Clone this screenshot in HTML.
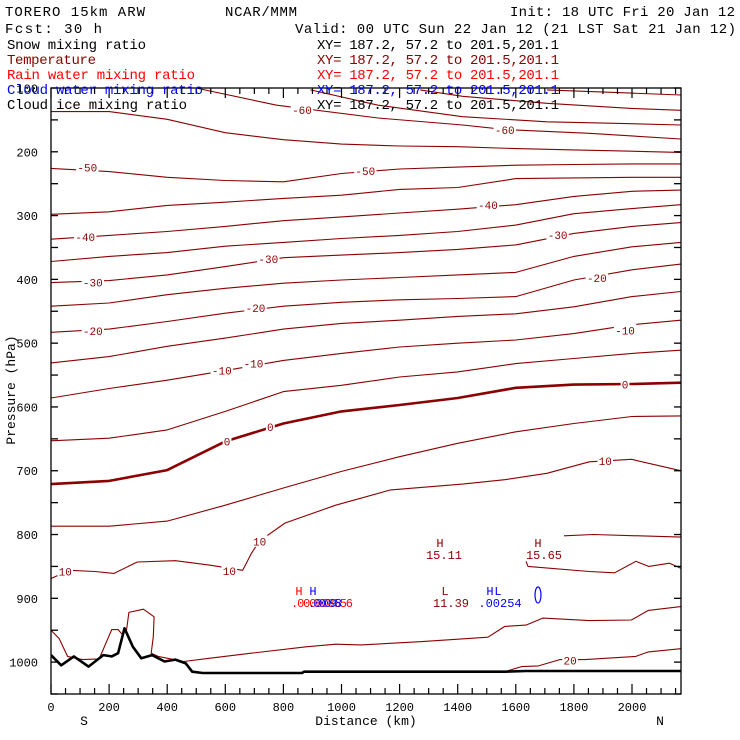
<!DOCTYPE html>
<html><head><meta charset="utf-8"><style>
html,body{margin:0;padding:0;background:#fff;}
svg{display:block;font-family:"Liberation Mono",monospace;}
</style></head><body>
<svg id="chart" width="740" height="740" viewBox="0 0 740 740" xmlns="http://www.w3.org/2000/svg">
<rect width="740" height="740" fill="#fff"/>
<defs><clipPath id="plotclip"><rect x="51" y="88" width="630" height="606"/></clipPath></defs>
<g id="contours" clip-path="url(#plotclip)"></g>
<g id="terrainG" clip-path="url(#plotclip)"></g>
<g id="labels"></g>
<g id="axes"></g>
<g font-size="14" fill="#000">
<text x="5" y="16" textLength="140">TORERO  15km ARW</text>
<text x="225" y="16" textLength="72">NCAR/MMM</text>
<text x="510" y="16" textLength="225">Init: 18 UTC Fri 20 Jan 12</text>
<text x="5" y="33" textLength="97">Fcst:   30 h</text>
<text x="295" y="33" textLength="441">Valid: 00 UTC Sun 22 Jan 12 (21 LST Sat 21 Jan 12)</text>
</g>
<g font-size="14">
<text x="7" y="49" fill="#000" textLength="139">Snow mixing ratio</text>
<text x="317" y="49" fill="#000" textLength="242">XY= 187.2, 57.2 to 201.5,201.1</text>
<text x="7" y="64" fill="#8b0000" textLength="89">Temperature</text>
<text x="317" y="64" fill="#8b0000" textLength="242">XY= 187.2, 57.2 to 201.5,201.1</text>
<text x="7" y="79" fill="#ff0000" textLength="188">Rain water mixing ratio</text>
<text x="317" y="79" fill="#ff0000" textLength="242">XY= 187.2, 57.2 to 201.5,201.1</text>
<text x="7" y="94" fill="#0000ff" textLength="196">Cloud water mixing ratio</text>
<text x="317" y="94" fill="#0000ff" textLength="242">XY= 187.2, 57.2 to 201.5,201.1</text>
<text x="7" y="109" fill="#000" textLength="180">Cloud ice mixing ratio</text>
<text x="317" y="109" fill="#000" textLength="242">XY= 187.2, 57.2 to 201.5,201.1</text>
</g>
<g font-size="12" text-anchor="middle">
<text x="299" y="595" fill="#ff0000">H</text>
<text x="313" y="595" fill="#0000ff">H</text>
<text x="322" y="607" fill="#ff0000" textLength="62">.000008556</text>
<text x="325" y="607" fill="#0000ff" textLength="34">.00098</text>
<text x="440" y="547" fill="#8b0000">H</text>
<text x="444" y="559" fill="#8b0000">15.11</text>
<text x="538" y="547" fill="#8b0000">H</text>
<text x="544" y="559" fill="#8b0000">15.65</text>
<text x="445" y="595" fill="#8b0000">L</text>
<text x="451" y="607" fill="#8b0000">11.39</text>
<text x="490" y="595" fill="#0000ff">H</text>
<text x="498" y="595" fill="#0000ff">L</text>
<text x="500" y="607" fill="#0000ff">.00254</text>
<ellipse cx="538" cy="595" rx="3" ry="8" fill="none" stroke="#0000ff" stroke-width="1.2"/>
</g>
<g font-size="13" fill="#000">
<text x="366" y="725" text-anchor="middle">Distance (km)</text>
<text x="84" y="725" text-anchor="middle">S</text>
<text x="660" y="725" text-anchor="middle">N</text>
<text transform="translate(15,390) rotate(-90)" text-anchor="middle">Pressure (hPa)</text>
</g>
</svg>
<script>
const distNodes=[0,200,400,600,800,1000,1200,1400,1600,1800,2000,2168];
const tempM55=[137,137,149,170,181,188,191,192,195,197,199,201];
const tempM50=[226,231,240,245,247,234,227,224,221,220,219,219];
const tempM45=[298,294,284,279,273,268,259,256,242,241,240,240];
const tempM40=[337,331,325,317,308,302,296,290,283,270,262,260];
const tempM35=[372,364,358,348,342,336,331,325,315,297,289,283];
const tempM30=[405,402,393,380,366,362,358,353,346,328,317,311];
const tempM25=[442,437,424,414,406,401,397,393,389,364,349,342];
const tempM20=[483,478,466,453,442,436,432,430,427,401,385,376];
const tempM15=[531,521,505,492,478,469,464,458,454,443,427,419];
const tempM10=[586,571,558,543,527,516,506,500,495,485,471,464];
const tempM5=[653,649,636,607,576,566,553,545,532,524,516,511];
const temp0=[721,716,699,654,626,607,597,586,570,565,564,562];
const temp5=[787,787,779,754,727,701,678,657,639,626,615,614];
const m60Dist=[400,529,777,1126,1417,1562,1853,2168];
const m60Pres=[90,103,127,147,158,165,171,180];
const m65Dist=[893,1126,1417,1707,1998,2168];
const m65Pres=[103,127,145,153,156,158];
const m70Dist=[1271,1417,1707,1998,2168];
const m70Pres=[103,113,124,132,135];
const m75Dist=[1707,1998,2168];
const m75Pres=[103,108,111];
const t10Dist=[0,64,151,217,297,428,545,660,689,718,806,980,1169,1417,1562,1707,1853,1998,2168];
const t10Pres=[869,856,858,861,843,841,848,856,830,810,782,754,730,721,714,704,686,682,700];
const t15aDist=[0,28,57,108,166,209,231,246];
const t15aPres=[950,963,991,996,995,949,949,957];
const t15bDist=[260,268,318,355,352,345,369,457,544,689,878,980,1067,1271,1504,1562,1635,1693,1853,1998,2056,2168];
const t15bPres=[950,922,917,929,960,986,991,999,994,986,976,972,973,968,961,944,942,931,935,934,919,913];
const t15cDist=[1635,1642,1853,1940,2013,2057,2129,2168];
const t15cPres=[842,850,858,860,842,850,845,853];
const t15dDist=[1766,1867,2168];
const t15dPres=[802,800,804];
const t20Dist=[1562,1620,1678,1751,1838,2013,2056,2168];
const t20Pres=[1015,1007,1006,996,996,991,984,979];
const terrainDist=[0,35,79,129,180,209,231,253,282,311,348,391,428,464,486,522,864,871,1562,1635,2168];
const terrainPres=[989,1005,991,1007,989,991,986,947,976,994,989,999,996,1002,1015,1017,1017,1015,1015,1014,1014];
const labelText=["-60","-60","-50","-50","-40","-40","-30","-30","-30","-20","-20","-20","-10","-10","-10","0","0","0","10","10","10","10","20"];
const labelDist=[864,1562,125,1082,1504,118,1744,748,144,1879,704,144,1976,697,588,1976,606,755,1908,718,614,49,1787];
const labelPres=[134,165,224,229,283,333,330,367,404,397,444,480,479,531,542,564,653,631,684,810,856,857,997];
const yTicks=[100,200,300,400,500,600,700,800,900,1000];
const xTicks=[0,200,400,600,800,1000,1200,1400,1600,1800,2000];

const NS='http://www.w3.org/2000/svg';
function xs(d){return 51+d*0.2905;}
function ys(p){return 88+(p-100)*0.6379;}
function mk(tag,attrs,parent){const e=document.createElementNS(NS,tag);for(const k in attrs)e.setAttribute(k,attrs[k]);parent.appendChild(e);return e;}
function pathFrom(dist,pres){let s='';for(let i=0;i<dist.length;i++){if(pres[i]==null)continue;s+=(s?'L':'M')+xs(dist[i]).toFixed(1)+','+ys(pres[i]).toFixed(1);}return s;}
const cg=document.getElementById('contours');
function line(dist,pres,name,w,color){
  const p=mk('path',{d:pathFrom(dist,pres),fill:'none',stroke:color||'#8b0000','stroke-width':w||1.1,'stroke-linejoin':'round'},cg);
  
  
}
line(distNodes,tempM55,'isotherm-minus55');
line(distNodes,tempM50,'isotherm-minus50');
line(distNodes,tempM45,'isotherm-minus45');
line(distNodes,tempM40,'isotherm-minus40');
line(distNodes,tempM35,'isotherm-minus35');
line(distNodes,tempM30,'isotherm-minus30');
line(distNodes,tempM25,'isotherm-minus25');
line(distNodes,tempM20,'isotherm-minus20');
line(distNodes,tempM15,'isotherm-minus15');
line(distNodes,tempM10,'isotherm-minus10');
line(distNodes,tempM5,'isotherm-minus5');
line(distNodes,temp0,'isotherm-0',2.6);
line(distNodes,temp5,'isotherm-5');
line(m60Dist,m60Pres,'isotherm-minus60');
line(m65Dist,m65Pres,'isotherm-minus65');
line(m70Dist,m70Pres,'isotherm-minus70');
line(m75Dist,m75Pres,'isotherm-minus75');
line(t10Dist,t10Pres,'isotherm-10');
line(t15aDist,t15aPres,'isotherm-15-west');
line(t15bDist,t15bPres,'isotherm-15');
line(t15cDist,t15cPres,'isotherm-15-north');
line(t15dDist,t15dPres,'isotherm-10-north');
line(t20Dist,t20Pres,'isotherm-20');
const tg=document.getElementById('terrainG');
const tp=mk('path',{d:pathFrom(terrainDist,terrainPres),fill:'none',stroke:'#000','stroke-width':2.6,'stroke-linejoin':'round'},tg);



const lg=document.getElementById('labels');
for(let i=0;i<labelText.length;i++){
  const x=xs(labelDist[i]),y=ys(labelPres[i]);
  const w=labelText[i].length*6.8+2;
  const r=mk('rect',{x:x-w/2,y:y-6,width:w,height:12,fill:'#fff'},lg);
  
  
  const t=mk('text',{x:x,y:y+4.5,'text-anchor':'middle','font-size':11,fill:'#8b0000'},lg);
  t.textContent=labelText[i];
  
  
}

const ag=document.getElementById('axes');
const frame=mk('rect',{x:51,y:88,width:630,height:606,fill:'none',stroke:'#000','stroke-width':1.3},ag);


for(let p=100;p<=1050;p+=50){
  const y=ys(p);
  const a=mk('line',{x1:51,x2:58,y1:y,y2:y,stroke:'#000','stroke-width':1.3},ag);
  
  
  const b=mk('line',{x1:674,x2:681,y1:y,y2:y,stroke:'#000','stroke-width':1.3},ag);
  
  
}
for(const p of yTicks){
  const t=mk('text',{x:38,y:ys(p)+4.5,'text-anchor':'end','font-size':12,fill:'#000'},ag);
  t.textContent=p;
  
  
}
for(let d=0;d<=2168;d+=50){
  const x=xs(d);const len=(d%200===0)?10:6;
  const a=mk('line',{x1:x,x2:x,y1:694,y2:694-len,stroke:'#000','stroke-width':1.2},ag);
  
  
  const b=mk('line',{x1:x,x2:x,y1:88,y2:88+len,stroke:'#000','stroke-width':1.2},ag);
  
  
}
for(const d of xTicks){
  const t=mk('text',{x:xs(d),y:711,'text-anchor':'middle','font-size':12,fill:'#000'},ag);
  t.textContent=d;
  
  
}
</script>
</body></html>
